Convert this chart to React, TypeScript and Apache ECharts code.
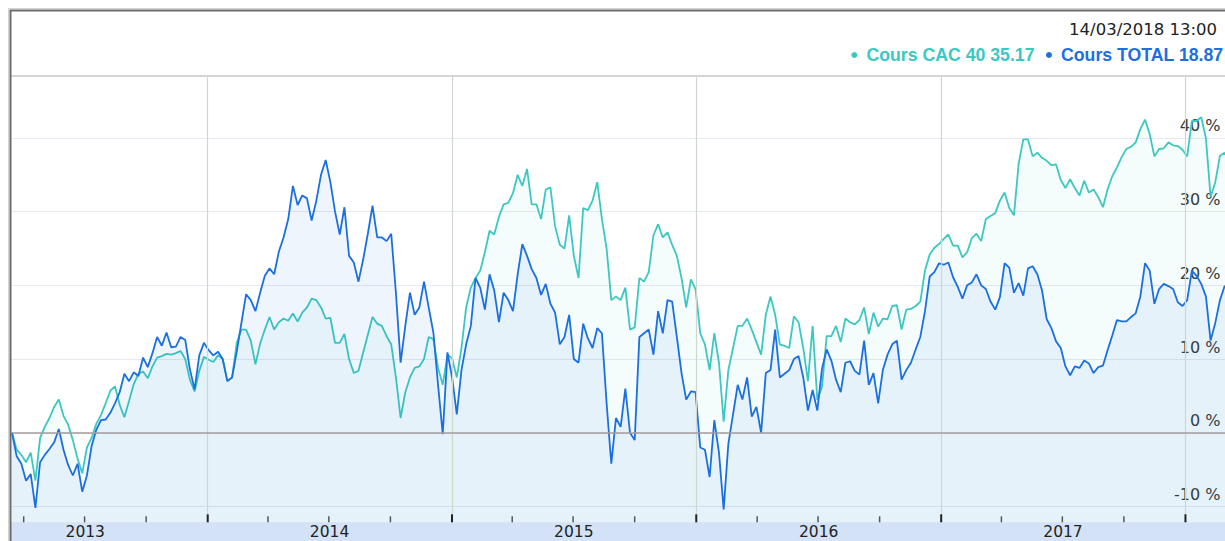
import React, { useEffect, useRef } from 'react';
import * as echarts from 'echarts';

// ---- data ----
const START = Date.UTC(2013, 2, 14, 13);
const END = Date.UTC(2018, 2, 14, 13);
const HEADER_DATE = '14/03/2018 13:00';
const SERIES_NAMES = ['Cours CAC 40', 'Cours TOTAL'];
const YEAR_LABELS = ['2013', '2014', '2015', '2016', '2017'];
const YEAR_GRID = [2014, 2015, 2016, 2017, 2018];

// weekly performance (%) since 14/03/2013
const CAC_VALUES = [
  0, -2.3, -3.0, -4.0, -2.7, -6.5, -0.7, 0.8, 2.0, 3.5, 4.5, 2.3, 1.1, -1.0, -3.5, -5.5, -2.0, -0.7, 1.2, 2.4,
  4.0, 5.7, 6.3, 3.8, 2.1, 4.3, 6.6, 8.0, 8.3, 7.4, 9.0, 10.2, 10.4, 10.7, 10.6, 10.8, 11.1, 10.0, 7.2, 5.6,
  8.4, 10.3, 9.9, 9.6,
  10.5, 10.0, 7.0, 7.5, 12.2, 14.0, 14.0, 12.5, 9.3, 12.1, 14.0, 15.7, 14.0, 15.0, 15.5, 15.2, 16.2, 15.1, 16.3, 17.0,
  18.2, 18.0, 17.0, 15.5, 15.6, 12.2, 12.2, 13.4, 10.0, 8.1, 8.4, 10.9, 13.3, 15.7, 14.8, 14.5, 13.1, 12.0, 7.5, 2.0,
  5.5, 7.5, 8.8,
  9.0, 10.0, 13.0, 12.7, 8.8, 6.5, 10.6, 10.1, 7.5, 11.5, 17.0, 19.7, 21.0, 22.0, 24.5, 27.4, 26.9, 29.3, 31.0, 31.2,
  32.5, 35.0, 33.5, 35.8, 31.0, 31.0, 29.0, 33.0, 33.3, 28.0, 25.5, 25.0, 29.5, 24.0, 21.0, 30.5, 30.2, 31.5, 34.0, 29.0,
  25.0, 18.0,
  18.5, 18.0, 19.7, 14.0, 14.3, 21.0, 20.5, 21.8, 26.8, 28.3, 26.5, 27.2, 25.5, 24.0, 21.0, 17.0, 20.8, 19.5, 13.5, 12.0,
  8.5, 13.5, 9.5, 1.5, 8.5, 11.5, 14.5, 14.5, 15.5, 14.0, 12.3, 10.6, 16.0, 18.5, 16.0, 12.0, 11.8, 11.5, 15.8, 15.0,
  11.5, 7.0,
  14.5, 4.5, 6.2, 13.1, 13.1, 14.5, 12.3, 15.5, 15.0, 14.7, 15.3, 17.0, 13.4, 16.3, 14.4, 15.5, 15.4, 17.2, 17.3, 14.0,
  16.7, 16.8, 17.2, 17.8, 22.0, 24.2, 25.1, 25.6, 26.3, 26.9, 25.4, 25.4, 23.8, 24.5, 26.4, 27.0, 26.0, 29.0, 29.4, 29.8,
  31.5, 32.6, 30.5,
  29.5, 36.5, 39.8, 39.8, 37.5, 38.0, 37.3, 36.9, 36.3, 36.4, 34.3, 33.2, 34.4, 33.2, 32.2, 34.2, 32.6, 33.0, 32.0, 30.6,
  33.0, 34.8, 36.0, 37.4, 38.5, 38.8, 39.4, 41.2, 42.5, 40.5, 37.5, 38.5, 38.6, 39.4, 39.0, 38.9, 38.4, 37.5, 42.3, 42.3,
  42.8, 40.0, 32.0, 34.0, 37.6, 38.0, 36.5, 35.17,
];

const TOTAL_VALUES = [
  0, -3.2, -4.2, -6.5, -5.6, -10.2, -4.0, -3.0, -2.2, -1.3, 0.5, -2.3, -4.4, -5.8, -4.2, -8.0, -5.8, -1.8, 0.4, 1.7,
  1.8, 2.7, 4.0, 5.5, 8.0, 7.0, 8.2, 7.7, 10.2, 8.9, 10.8, 13.0, 11.8, 13.6, 11.6, 11.7, 13.0, 12.6, 8.6, 5.9,
  10.5, 12.2, 11.2, 10.5,
  11.0, 10.0, 7.0, 7.5, 11.0, 14.9, 18.8, 18.0, 16.5, 19.0, 21.3, 22.3, 21.5, 24.6, 26.5, 29.0, 33.5, 30.9, 32.2, 31.8,
  28.8, 31.5, 35.0, 37.0, 34.0, 30.0, 26.9, 30.6, 24.0, 23.1, 20.5, 23.5, 27.0, 30.8, 26.5, 26.5, 26.0, 27.0, 19.0, 9.5,
  14.5, 19.0, 16.0,
  17.0, 20.5, 17.0, 13.6, 6.5, -0.2, 10.9, 7.5, 2.5, 8.5, 12.0, 14.5, 21.0, 19.7, 16.7, 21.5, 19.3, 15.0, 19.0, 18.0,
  16.5, 21.5, 25.6, 24.0, 22.2, 21.0, 18.7, 20.2, 17.5, 16.3, 12.0, 13.0, 16.0, 10.0, 9.5, 14.8, 12.8, 11.5, 14.2, 13.5,
  4.0, -4.2,
  2.0, 0.8, 6.0, 0.0, -1.0, 13.0, 13.5, 14.0, 10.6, 16.5, 13.5, 18.0, 17.8, 13.0, 8.1, 4.5, 5.6, 5.5, -2.0, -2.3,
  -6.0, 1.7, -2.7, -10.4, -1.5, 2.5, 6.5, 4.5, 7.5, 2.2, 3.5, 0.0, 8.1, 8.5, 14.0, 7.5, 8.0, 8.5, 10.0, 10.4,
  7.5, 3.0,
  5.8, 3.0, 8.7, 11.3, 9.8, 7.2, 5.5, 9.5, 9.7, 8.4, 7.9, 12.5, 6.5, 8.1, 4.0, 8.5, 10.6, 12.0, 12.5, 7.2,
  8.5, 9.5, 11.3, 13.0, 16.5, 21.2, 21.8, 23.0, 22.8, 23.1, 21.1, 19.8, 18.2, 20.0, 20.4, 21.5, 20.0, 19.5, 17.8, 16.7,
  18.4, 23.0, 22.4,
  19.0, 20.3, 18.6, 22.3, 22.6, 21.5, 19.3, 15.4, 14.2, 12.4, 11.5, 9.0, 7.8, 9.0, 8.8, 9.8, 9.4, 8.1, 8.9, 9.1,
  11.2, 13.2, 15.3, 15.1, 15.1, 15.7, 16.2, 18.5, 23.0, 22.0, 17.5, 19.5, 20.2, 19.9, 19.5, 17.7, 17.2, 18.0, 22.0, 21.3,
  20.2, 18.5, 12.5, 14.9, 18.0, 19.9, 19.5, 18.87,
];

// ---- style / layout ----
const W = 1245;
const H = 541;
const PLOT_LEFT = 12;
const PLOT_RIGHT = 1234;
const PLOT_TOP = 77;
const PLOT_BOTTOM = 522.3;
const Y_MIN = -12.15;
const Y_MAX = 48.27;

const CAC_LINE = '#3cc8c0';
const TOTAL_LINE = '#1b6fe0';
const FONT_AXIS = 'DejaVu Sans';

function toSeries(values: number[]) {
  const n = values.length - 1;
  return values.map((v, i) => [START + ((END - START) * i) / n, v]);
}

function quarterTicks() {
  const out: number[][] = [];
  for (let y = 2013; y <= 2018; y++) {
    for (const m of [0, 3, 6, 9]) {
      const t = Date.UTC(y, m, 1);
      if (t > START && t < END) out.push([t, m === 0 ? 1 : 0]);
    }
  }
  return out;
}

export default function App() {
  const ref = useRef<HTMLDivElement>(null);

  useEffect(() => {
    if (!ref.current) return;
    const chart = echarts.init(ref.current, undefined, { renderer: 'svg' });

    const lastCac = CAC_VALUES[CAC_VALUES.length - 1];
    const lastTotal = TOTAL_VALUES[TOTAL_VALUES.length - 1];
    const lastByName: Record<string, number> = {
      [SERIES_NAMES[0]]: lastCac,
      [SERIES_NAMES[1]]: lastTotal,
    };

    const option: any = {
      animation: false,
      backgroundColor: '#ffffff',
      grid: {
        left: PLOT_LEFT,
        right: W - PLOT_RIGHT,
        top: PLOT_TOP,
        bottom: H - PLOT_BOTTOM,
        containLabel: false,
      },
      legend: {
        right: 21.5,
        top: 46,
        padding: 0,
        itemGap: 11.5,
        itemWidth: 6,
        itemHeight: 6,
        icon: 'circle',
        selectedMode: false,
        textStyle: {
          fontFamily: 'Liberation Sans',
          fontWeight: 'bold',
          fontSize: 17.7,
          padding: [0, 0, 0, 4],
        },
        formatter: (name: string) => `${name} ${lastByName[name]}`,
        data: [
          { name: SERIES_NAMES[0], textStyle: { color: '#3bc8c2' } },
          { name: SERIES_NAMES[1], textStyle: { color: '#1d6fe0' } },
        ],
      },
      xAxis: {
        type: 'time',
        min: START,
        max: END,
        axisLine: { show: false },
        axisTick: { show: false },
        axisLabel: { show: false },
        splitLine: { show: false },
      },
      yAxis: {
        type: 'value',
        position: 'right',
        min: Y_MIN,
        max: Y_MAX,
        axisLine: { show: false },
        axisTick: { show: false },
        splitLine: {
          show: true,
          showMinLine: false,
          showMaxLine: false,
          lineStyle: { color: '#e8e8f3', width: 1.2 },
        },
        axisLabel: {
          inside: true,
          margin: 13.5,
          showMinLabel: false,
          showMaxLabel: false,
          color: '#333333',
          fontFamily: FONT_AXIS,
          fontSize: 16,
          verticalAlign: 'bottom',
          padding: [0, 0, 4, 0],
          formatter: (v: number) => (Math.abs(v % 10) < 1e-6 ? `${Math.round(v)} %` : ''),
        },
      },
      series: [
        {
          name: SERIES_NAMES[0],
          type: 'line',
          data: toSeries(CAC_VALUES),
          showSymbol: false,
          symbol: 'none',
          color: CAC_LINE,
          lineStyle: { color: CAC_LINE, width: 1.8 },
          areaStyle: { color: 'rgba(64,200,192,0.08)', origin: 'start' },
          z: 2,
          markLine: {
            silent: true,
            symbol: ['none', 'none'],
            label: { show: false },
            lineStyle: { color: '#cfd8cf', width: 1.2, type: 'solid' },
            data: YEAR_GRID.map((y) => ({ xAxis: Date.UTC(y, 0, 1) })),
          },
        },
        {
          name: SERIES_NAMES[1],
          type: 'line',
          data: toSeries(TOTAL_VALUES),
          showSymbol: false,
          symbol: 'none',
          color: TOTAL_LINE,
          lineStyle: { color: TOTAL_LINE, width: 1.8 },
          areaStyle: { color: 'rgba(32,112,224,0.1)', origin: 'start' },
          z: 3,
          markLine: {
            silent: true,
            symbol: ['none', 'none'],
            label: { show: false },
            lineStyle: { color: '#a39d9d', width: 1.6, type: 'solid' },
            data: [{ yAxis: 0 }],
          },
        },
        {
          type: 'custom',
          name: 'ticks',
          silent: true,
          clip: false,
          z: 6,
          data: quarterTicks(),
          renderItem: (params: any, api: any) => {
            const cs = params.coordSys;
            const x = api.coord([api.value(0), Y_MIN])[0];
            const bottom = cs.y + cs.height;
            const major = api.value(1) === 1;
            return {
              type: 'line',
              shape: { x1: x, y1: bottom - (major ? 8 : 6), x2: x, y2: bottom },
              style: { stroke: major ? '#222222' : '#555555', lineWidth: major ? 2 : 1.5 },
            };
          },
        },
        {
          type: 'custom',
          name: 'years',
          silent: true,
          clip: false,
          z: 6,
          data: YEAR_LABELS.map((y, i) => [Date.UTC(Number(y), 6, 2), i]),
          renderItem: (params: any, api: any) => {
            const cs = params.coordSys;
            const x = api.coord([api.value(0), Y_MIN])[0];
            const bottom = cs.y + cs.height;
            return {
              type: 'text',
              x,
              y: bottom + 10,
              style: {
                text: YEAR_LABELS[api.value(1)],
                fill: '#222222',
                fontSize: 15.5,
                lineHeight: 15.5,
                fontFamily: FONT_AXIS,
                align: 'center',
                verticalAlign: 'middle',
                textAlign: 'center',
                textVerticalAlign: 'middle',
              },
            };
          },
        },
      ],
      graphic: [
        {
          type: 'rect',
          z: 0,
          silent: true,
          shape: { x: 11, y: PLOT_BOTTOM, width: W, height: 40 },
          style: { fill: '#d3e2f7' },
        },
        {
          type: 'line',
          z: 10,
          silent: true,
          shape: { x1: 11, y1: 76, x2: W, y2: 76 },
          style: { stroke: '#d5d5d5', lineWidth: 2 },
        },
        {
          type: 'rect',
          z: 10,
          silent: true,
          shape: { x: 8.5, y: 8.5, width: W + 20, height: H + 20 },
          style: { fill: 'none', stroke: '#d2d2d2', lineWidth: 1 },
        },
        {
          type: 'rect',
          z: 10,
          silent: true,
          shape: { x: 10.5, y: 10.5, width: W + 20, height: H + 20 },
          style: { fill: 'none', stroke: '#6a6a6a', lineWidth: 2 },
        },
        {
          type: 'text',
          z: 10,
          silent: true,
          x: 1217,
          y: 29,
          style: {
            text: HEADER_DATE,
            fill: '#222222',
            fontSize: 16.5,
            fontFamily: FONT_AXIS,
            align: 'right',
            verticalAlign: 'middle',
            textAlign: 'right',
            textVerticalAlign: 'middle',
          },
        },
      ],
    };

    chart.setOption(option);
    return () => chart.dispose();
  }, []);

  return (
    <div
      style={{
        position: 'fixed',
        left: 0,
        top: 0,
        width: 1225,
        height: 541,
        overflow: 'hidden',
        background: '#ffffff',
      }}
    >
      <div ref={ref} style={{ width: W, height: H }} />
    </div>
  );
}
